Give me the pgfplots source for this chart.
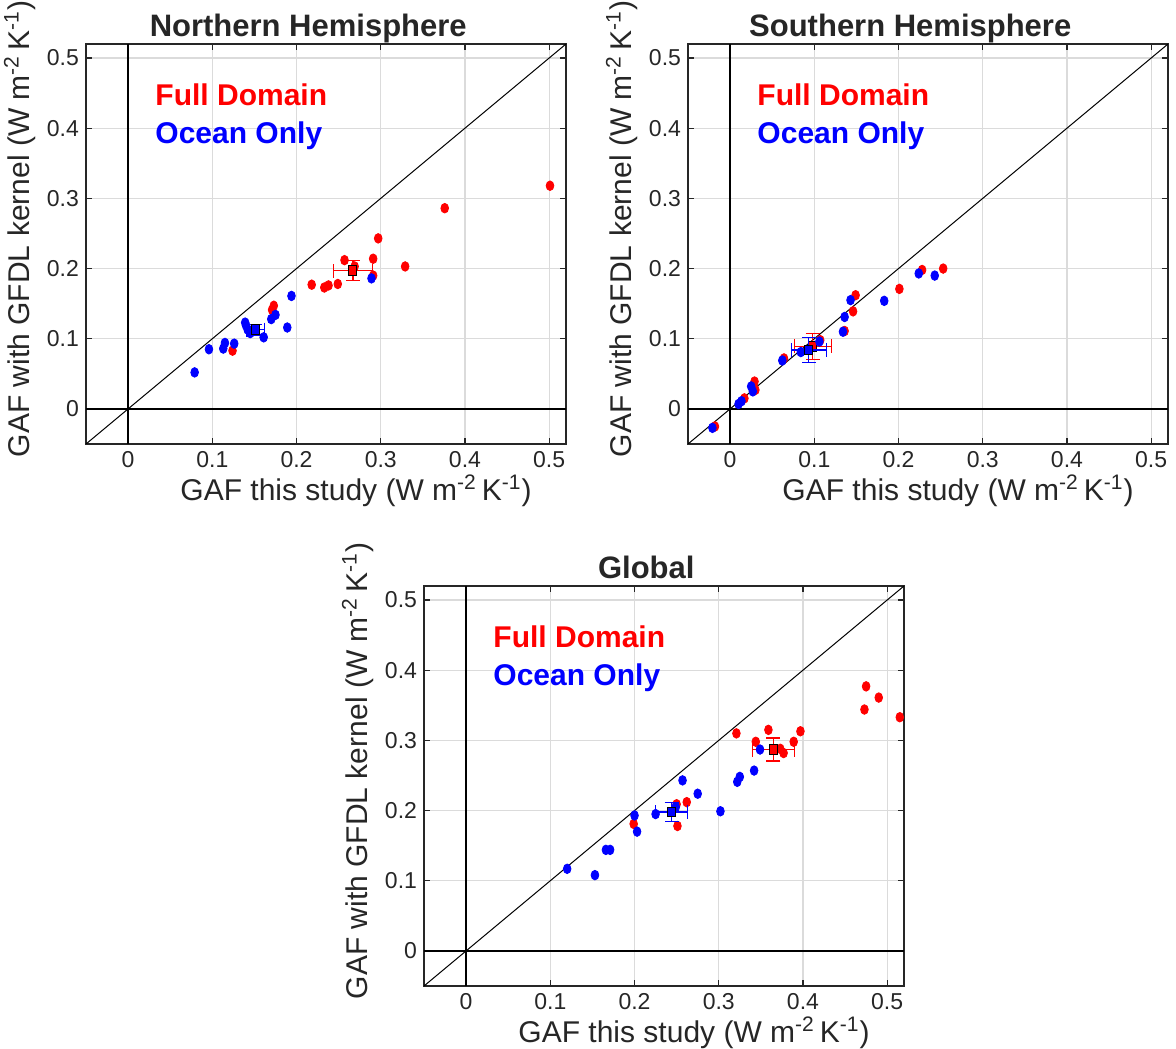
\documentclass[border=0pt]{standalone}
\usepackage{fontspec}
\setmainfont{Liberation Sans}
\usepackage{pgfplots}
\pgfplotsset{compat=1.18}

\definecolor{axgray}{gray}{0.15}

\pgfplotsset{
  gaf/.style={
    scale only axis, width=240pt, height=200pt,
    anchor=south west,
    xmin=-0.05, xmax=0.52, ymin=-0.05, ymax=0.52,
    xtick={0,0.1,0.2,0.3,0.4,0.5},
    ytick={0,0.1,0.2,0.3,0.4,0.5},
    /pgf/number format/.cd, fixed, precision=1, assume math mode=true,
    /pgfplots/.cd,
    tick align=inside, tick pos=both, ticklabel pos=left,
    major tick length=3pt,
    tick style={axgray, line width=0.6pt},
    axis line style={axgray, line width=0.7pt},
    grid=major, major grid style={gray!28, line width=0.6pt},
    ticklabel style={font=\fontsize{11.5}{13}\selectfont, text=axgray},
    label style={font=\fontsize{15}{17}\selectfont, text=axgray},
    xlabel={GAF this study (W m\textsuperscript{-2}\,K\textsuperscript{-1})},
    ylabel={GAF with GFDL kernel (W m\textsuperscript{-2}\,K\textsuperscript{-1})},
    xlabel style={yshift=3pt, xshift=15pt},
    ylabel style={yshift=-1pt, xshift=7.5pt},
    title style={at={(rel axis cs:0.463,1)}, anchor=base, yshift=-2.5pt,
      font=\fontsize{15.5}{17}\selectfont\bfseries, text=axgray},
    clip marker paths=true,
  },
  dotr/.style={only marks, mark=*, mark size=2.4pt, color=red,
    mark options={xscale=0.8, draw=red, fill=red}},
  dotb/.style={only marks, mark=*, mark size=2.4pt, color=blue,
    mark options={xscale=0.8, draw=blue, fill=blue}},
  meanr/.style={only marks, mark=square*, mark size=2pt,
    mark options={yscale=1.2, draw=black, fill=red, line width=0.5pt},
    error bars/.cd, x dir=both, x explicit, y dir=both, y explicit,
    error bar style={red, line width=0.6pt},
    error mark options={rotate=90, red, line width=0.6pt, mark size=3.5pt}},
  meanb/.style={only marks, mark=square*, mark size=2pt,
    mark options={yscale=1.2, draw=black, fill=blue, line width=0.5pt},
    error bars/.cd, x dir=both, x explicit, y dir=both, y explicit,
    error bar style={blue, line width=0.6pt},
    error mark options={rotate=90, blue, line width=0.6pt, mark size=3.5pt}},
}

\newcommand{\reflines}{%
  \addplot[black, line width=0.5pt] coordinates {(-0.05,-0.05) (0.52,0.52)};
  \addplot[black, line width=1pt] coordinates {(-0.05,0) (0.52,0)};
  \addplot[black, line width=0.7pt] coordinates {(0,-0.05) (0,0.52)};
  \node[anchor=west, text=red, font=\fontsize{15}{17}\selectfont\bfseries]
    at (rel axis cs:0.13,0.872) {Full Domain};
  \node[anchor=west, text=blue, font=\fontsize{15}{17}\selectfont\bfseries]
    at (rel axis cs:0.13,0.77) {Ocean Only};
}

\begin{document}
\begin{tikzpicture}
\useasboundingbox (0,0) rectangle (588pt,524pt);

% Northern Hemisphere
\begin{axis}[gaf, at={(43pt,302pt)}, title={Northern Hemisphere}]
\reflines
\addplot[dotr] coordinates {
  (0.501,0.318) (0.376,0.286) (0.297,0.243) (0.291,0.214) (0.257,0.212)
  (0.329,0.203) (0.269,0.203) (0.291,0.190) (0.218,0.177) (0.233,0.173)
  (0.238,0.176) (0.249,0.178) (0.173,0.147) (0.171,0.141) (0.124,0.083)
};
\addplot[meanr] coordinates {(0.267,0.197) +- (0.023,0.0145)};
\addplot[dotb] coordinates {
  (0.079,0.052) (0.096,0.085) (0.113,0.086) (0.115,0.094) (0.126,0.093)
  (0.139,0.123) (0.140,0.119) (0.142,0.113) (0.145,0.108) (0.161,0.102)
  (0.170,0.128) (0.175,0.134) (0.189,0.116) (0.194,0.161) (0.289,0.186)
};
\addplot[meanb] coordinates {(0.151,0.113) +- (0.0106,0.0076)};
\end{axis}

% Southern Hemisphere
\begin{axis}[gaf, at={(344pt,302pt)}, title={Southern Hemisphere}]
\reflines
\addplot[dotr] coordinates {
  (0.253,0.200) (0.228,0.198) (0.201,0.171) (0.149,0.162) (0.146,0.139)
  (0.136,0.111) (0.107,0.098) (0.064,0.072) (0.029,0.039) (0.030,0.027)
  (0.017,0.015) (-0.018,-0.025)
};
\addplot[meanr] coordinates {(0.098,0.089) +- (0.022,0.0185)};
\addplot[dotb] coordinates {
  (0.243,0.190) (0.224,0.193) (0.183,0.154) (0.143,0.155) (0.136,0.131)
  (0.134,0.110) (0.106,0.096) (0.084,0.081) (0.062,0.069) (0.025,0.032)
  (0.027,0.025) (0.0135,0.011) (0.010,0.007) (-0.021,-0.027)
};
\addplot[meanb] coordinates {(0.0935,0.084) +- (0.021,0.018)};
\end{axis}

% Global
\begin{axis}[gaf, at={(212pt,31pt)}, title={Global}]
\reflines
\addplot[dotr] coordinates {
  (0.475,0.377) (0.490,0.361) (0.473,0.344) (0.515,0.333) (0.321,0.310)
  (0.359,0.315) (0.397,0.313) (0.344,0.298) (0.389,0.298) (0.373,0.288)
  (0.377,0.282) (0.262,0.212) (0.250,0.209) (0.251,0.178) (0.199,0.181)
};
\addplot[meanr] coordinates {(0.365,0.287) +- (0.025,0.0164)};
\addplot[dotb] coordinates {
  (0.349,0.287) (0.342,0.257) (0.325,0.248) (0.322,0.241) (0.257,0.243)
  (0.275,0.224) (0.302,0.199) (0.249,0.205) (0.225,0.195) (0.200,0.193)
  (0.203,0.170) (0.166,0.144) (0.171,0.144) (0.120,0.117) (0.153,0.108)
};
\addplot[meanb] coordinates {(0.244,0.198) +- (0.019,0.0138)};
\end{axis}
\end{tikzpicture}
\end{document}
